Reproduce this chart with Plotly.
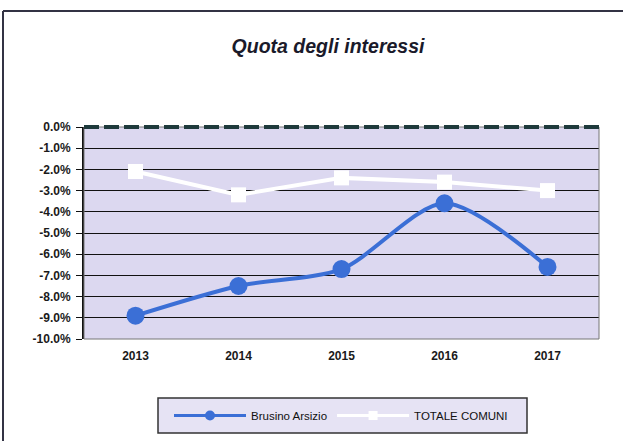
import plotly.graph_objects as go

years = ["2013", "2014", "2015", "2016", "2017"]
brusino = [-8.9, -7.5, -6.7, -3.6, -6.6]
totale = [-2.1, -3.2, -2.4, -2.6, -3.0]
y_ticks = [0, -1, -2, -3, -4, -5, -6, -7, -8, -9, -10]
y_tick_labels = [f"{v:.1f}%" for v in y_ticks]

L, R, T, B = 84, 24, 127, 102
W, H = 623, 441
pw, ph = W - L - R, H - T - B

def px(x):
    return (x - L) / pw

def py(y):
    return (H - B - y) / ph

BLUE = "#3b6fd6"

fig = go.Figure()

fig.add_trace(go.Scatter(
    x=years, y=brusino, mode="lines+markers", name="Brusino Arsizio", showlegend=False,
    line=dict(color=BLUE, width=4, shape="spline", smoothing=0.8),
    marker=dict(color=BLUE, size=18, line=dict(width=0)),
))
fig.add_trace(go.Scatter(
    x=years, y=totale, mode="lines+markers", name="TOTALE COMUNI", showlegend=False,
    line=dict(color="#ffffff", width=4),
    marker=dict(color="#ffffff", size=15, symbol="square", line=dict(width=0)),
))
# legend entries (smaller symbols as in the reference legend)
fig.add_trace(go.Scatter(
    x=[None], y=[None], mode="lines+markers", name="Brusino Arsizio",
    line=dict(color=BLUE, width=3), marker=dict(color=BLUE, size=10),
))
fig.add_trace(go.Scatter(
    x=[None], y=[None], mode="lines+markers", name="TOTALE COMUNI",
    line=dict(color="#ffffff", width=3), marker=dict(color="#ffffff", size=9, symbol="square"),
))

fig.update_layout(
    width=W, height=H,
    margin=dict(l=L, r=R, t=T, b=B, autoexpand=False),
    paper_bgcolor="#ffffff",
    plot_bgcolor="#dcd8f0",
    font=dict(family="Liberation Sans, Arial, sans-serif", color="#1a1a1a"),
    title=dict(
        text="<b><i>Quota degli interessi</i></b>",
        x=px(328), xref="paper", xanchor="center", y=1 - 46 / H, yanchor="middle",
        font=dict(size=19.5, color="#1a1a2a"),
    ),
    xaxis=dict(
        type="category", range=[-0.5, 4.5], showgrid=False,
        showline=False, ticks="", automargin=False, ticklabelstandoff=8,
        tickfont=dict(size=12, family="Liberation Sans", weight="bold"),
        zeroline=False,
    ),
    yaxis=dict(
        range=[-10, 0], tickvals=y_ticks, ticktext=y_tick_labels,
        showgrid=True, gridcolor="#111111", gridwidth=1.3,
        showline=True, linecolor="#111111", linewidth=2,
        ticks="outside", ticklen=6, tickcolor="#111111", tickwidth=1,
        ticklabelstandoff=3,
        tickfont=dict(size=12, family="Liberation Sans", weight="bold"),
        zeroline=False, automargin=False,
    ),
    legend=dict(
        orientation="h", x=px(169), xanchor="left", y=py(415.5), yanchor="middle",
        bgcolor="rgba(0,0,0,0)", borderwidth=0,
        font=dict(size=11.5, color="#111111"),
        itemwidth=72,
    ),
    shapes=[
        # legend box
        dict(type="rect", xref="paper", yref="paper",
             x0=px(158), x1=px(527), y0=py(398), y1=py(433),
             fillcolor="#e6e3f4", line=dict(color="#333333", width=1.5), layer="below"),
        # plot area border
        dict(type="rect", xref="paper", yref="paper", x0=0, x1=1, y0=0, y1=1,
             line=dict(color="#777777", width=1), layer="above"),
        # zero reference line (dashed)
        dict(type="line", xref="paper", yref="paper", x0=0, x1=1, y0=1, y1=1,
             line=dict(color="#1e3a3c", width=4, dash="15px,5px"), layer="above"),
        # outer frame
        dict(type="line", xref="paper", yref="paper",
             x0=px(3), x1=px(3), y0=py(11), y1=py(445),
             line=dict(color="#333344", width=2)),
        dict(type="line", xref="paper", yref="paper",
             x0=px(3), x1=px(630), y0=py(11), y1=py(11),
             line=dict(color="#333344", width=2)),
    ],
)

fig.write_html("out.html", config={"displayModeBar": False},
               post_script="document.body.style.margin='0';")
